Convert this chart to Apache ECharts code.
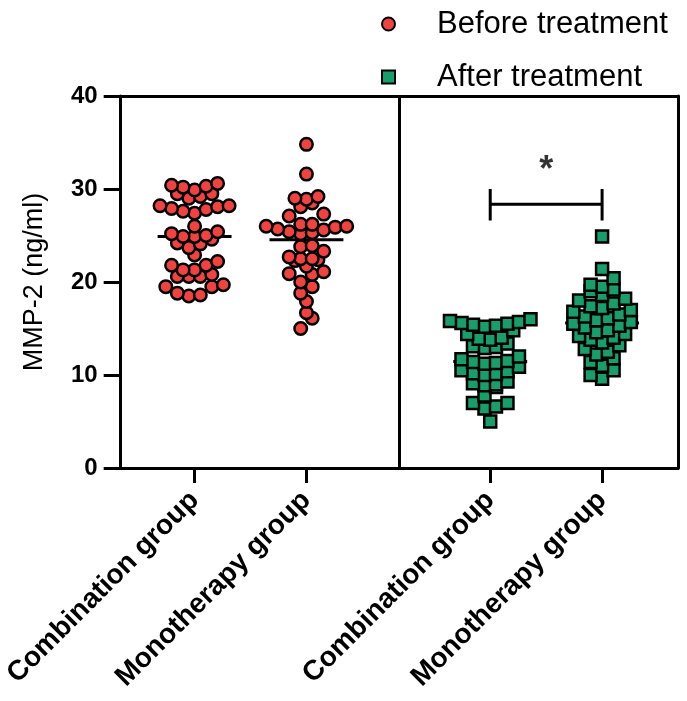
<!DOCTYPE html>
<html><head><meta charset="utf-8">
<script src="https://cdn.jsdelivr.net/npm/echarts@6/dist/echarts.min.js"></script>
<style>html,body{margin:0;padding:0;background:#fff}#c{width:687px;height:701px}</style>
</head><body><div id="c"></div>
<script>
// ---------- data ----------
const groupNames = ['Combination group', 'Monotherapy group', 'Combination group', 'Monotherapy group'];
const seriesNames = ['Before treatment', 'After treatment'];
const yTicks = [0, 10, 20, 30, 40];
const significanceMark = '*';
const beforeCombination = [30.6, 30.3, 30.2, 30.4, 29.9, 29.5, 29.5, 29.2, 29.0, 28.2, 28.2, 28.1, 27.9, 27.8, 27.6, 27.4,
  26.0, 25.4, 25.2, 25.0, 24.9, 24.9, 24.6, 24.2, 24.1, 23.7, 22.9, 22.2,
  21.8, 21.8, 21.3, 21.3, 20.8, 20.6, 20.6, 20.6, 19.7, 19.5, 19.5, 18.8, 18.6, 18.5];
const beforeMonotherapy = [34.8, 31.6, 29.2, 29.0, 28.9, 28.5, 28.1, 27.3, 27.1,
  26.2, 26.2, 26.0, 26.0, 25.9, 25.7, 25.6, 25.4, 25.3, 25.2,
  23.9, 23.8, 23.3, 22.7, 22.5, 22.5, 22.4, 22.3, 21.7, 21.1, 20.9, 20.8, 20.0, 19.5, 18.8, 17.9, 16.7, 16.1, 15.0];
const afterCombination = [16.0, 15.8, 15.7, 15.6, 15.5, 15.4, 15.3, 15.2, 14.8, 14.4,
  14.0, 13.8, 13.9, 13.4, 13.0, 12.9, 13.1,
  12.0, 11.4, 11.7, 11.3, 11.5, 11.2,
  10.9, 10.5, 10.4, 10.2, 10.1, 10.0,
  9.3, 9.1, 9.0, 8.9, 8.7,
  7.8, 7.0, 7.0, 6.6, 6.4, 5.0];
const afterMonotherapy = [24.9, 21.4, 20.4, 19.7, 19.5, 19.2, 19.0, 18.6, 18.2, 18.0, 17.7, 17.4, 17.2, 17.0, 16.8, 16.5, 16.3, 16.1, 15.9, 15.7,
  15.5, 15.3, 15.1, 14.8, 14.6, 14.4, 14.2, 14.0, 13.8, 13.5, 13.2, 12.8, 12.5, 12.2, 11.8, 11.4, 11.0, 10.5, 10.0, 9.6];
const bracketLevel = 28.35;  // y of the significance bracket
const bracketTop = 30.0;     // bracket legs run from bracketBottom to bracketTop
const bracketBottom = 26.6;
const starLevel = 31.9;

// ---------- layout ----------
const groupPos = [0.74, 1.86, 3.70, 4.82];
const xMax = 5.58, dividerX = 2.79, medianHalf = 0.37;
const FONT = '"Liberation Sans", Arial, Helvetica, sans-serif';
const RED = '#F0433F', GREEN = '#189E6B';

const chart = echarts.init(document.getElementById('c'), null, {renderer: 'canvas'});

const base = {
  animation: false,
  backgroundColor: '#fff',
  grid: {left: 120, right: 9, top: 96, bottom: 233, containLabel: false},
  xAxis: [{
    type: 'value', min: 0, max: xMax, position: 'bottom',
    splitLine: {show: false},
    axisLine: {show: true, onZero: false, lineStyle: {color: '#000', width: 3}},
    axisTick: {show: true, customValues: groupPos, length: 15, lineStyle: {color: '#000', width: 3}},
    axisLabel: {show: true, customValues: groupPos, rotate: 45, margin: 28,
      fontFamily: FONT, fontWeight: 'bold', fontSize: 28, color: '#000',
      formatter: v => groupNames[groupPos.indexOf(v)] || ''}
  }, {
    type: 'value', min: 0, max: xMax, position: 'top',
    splitLine: {show: false}, axisTick: {show: false}, axisLabel: {show: false},
    axisLine: {show: true, onZero: false, lineStyle: {color: '#000', width: 3}}
  }],
  yAxis: [{
    type: 'value', min: yTicks[0], max: yTicks[yTicks.length - 1], interval: 10,
    name: 'MMP-2 (ng/ml)', nameLocation: 'middle', nameGap: 73, nameRotate: 90,
    nameTextStyle: {fontFamily: FONT, fontSize: 27, color: '#000'},
    splitLine: {show: false},
    axisLine: {show: true, onZero: false, lineStyle: {color: '#000', width: 3}},
    axisTick: {show: true, length: 17, lineStyle: {color: '#000', width: 3}},
    axisLabel: {margin: 23, fontFamily: FONT, fontWeight: 'bold', fontSize: 24, color: '#000'}
  }, {
    type: 'value', min: 0, max: 40, position: 'right',
    splitLine: {show: false}, axisTick: {show: false}, axisLabel: {show: false},
    axisLine: {show: true, onZero: false, lineStyle: {color: '#000', width: 3}}
  }],
  series: []
};
chart.setOption(base);

const p0 = chart.convertToPixel({gridIndex: 0}, [0, 0]);
const p1 = chart.convertToPixel({gridIndex: 0}, [1, 1]);
const pxX = Math.abs(p1[0] - p0[0]);
const pxY = Math.abs(p1[1] - p0[1]);
const D = 11.5; // marker spacing in px

function swarm(values, center) {
  const sorted = values.slice().sort((a, b) => a - b);
  const min = sorted[0];
  const bins = new Map();
  sorted.forEach(v => {
    const b = Math.floor((v - min) * pxY / D);
    if (!bins.has(b)) bins.set(b, []);
    bins.get(b).push(v);
  });
  const out = [];
  bins.forEach(arr => {
    const n = arr.length;
    const slots = [];
    for (let i = 0; i < n; i++) slots.push((i - (n - 1) / 2));
    slots.sort((a, b) => Math.abs(a) - Math.abs(b));
    arr.forEach((v, i) => out.push([center + slots[i] * D / pxX, v]));
  });
  return out;
}
function median(a) {
  const s = a.slice().sort((x, y) => x - y), n = s.length;
  return n % 2 ? s[(n - 1) / 2] : (s[n / 2 - 1] + s[n / 2]) / 2;
}
function segment(pts, z) {
  return {type: 'line', silent: true, z: z, symbol: 'none', animation: false,
    lineStyle: {color: '#000', width: 3}, data: pts};
}

const groups = [
  {vals: beforeCombination, g: 0},
  {vals: beforeMonotherapy, g: 1},
  {vals: afterCombination, g: 2},
  {vals: afterMonotherapy, g: 3}
];
const series = [];
groups.forEach(gr => {
  const m = median(gr.vals), c = groupPos[gr.g];
  series.push(segment([[c - medianHalf, m], [c + medianHalf, m]], 1));
});
const beforePts = swarm(beforeCombination, groupPos[0]).concat(swarm(beforeMonotherapy, groupPos[1]));
const afterPts = swarm(afterCombination, groupPos[2]).concat(swarm(afterMonotherapy, groupPos[3]));
series.push({
  name: seriesNames[0], type: 'scatter', z: 3, symbol: 'circle', symbolSize: 12.5,
  itemStyle: {color: RED, borderColor: '#000', borderWidth: 2.5, opacity: 1},
  data: beforePts,
  markLine: {silent: true, symbol: 'none', label: {show: false},
    lineStyle: {color: '#000', width: 3, type: 'solid'},
    data: [{xAxis: dividerX}]}
});
series.push({
  name: seriesNames[1], type: 'scatter', z: 3, symbol: 'rect', symbolSize: 12,
  itemStyle: {color: GREEN, borderColor: '#000', borderWidth: 2.5, opacity: 1},
  data: afterPts
});
// significance bracket
series.push(segment([[groupPos[2], bracketBottom], [groupPos[2], bracketTop]], 2));
series.push(segment([[groupPos[2], bracketLevel], [groupPos[3], bracketLevel]], 2));
series.push(segment([[groupPos[3], bracketBottom], [groupPos[3], bracketTop]], 2));
series.push({
  type: 'scatter', silent: true, z: 2, symbolSize: 1, itemStyle: {color: 'rgba(0,0,0,0)'},
  label: {show: true, position: 'inside', formatter: significanceMark,
    fontFamily: FONT, fontSize: 36, fontWeight: 'bold', color: '#000'},
  data: [[(groupPos[2] + groupPos[3]) / 2, starLevel]]
});

chart.setOption({
  legend: {
    data: [
      {name: seriesNames[0], icon: 'circle'},
      {name: seriesNames[1], icon: 'rect'}
    ],
    orient: 'vertical', left: 376, top: 3, itemGap: 21,
    itemWidth: 13, itemHeight: 13,
    textStyle: {fontFamily: FONT, fontSize: 31, lineHeight: 32, color: '#000', padding: [0, 0, 0, 37]},
    selectedMode: false
  },
  series: series
});
</script></body></html>
